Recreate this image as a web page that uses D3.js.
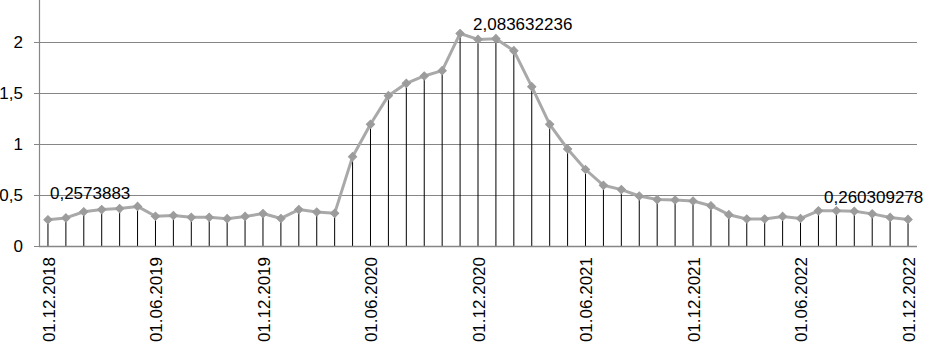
<!DOCTYPE html>
<html>
<head>
<meta charset="utf-8">
<script src="https://cdn.jsdelivr.net/npm/d3@7"></script>
<style>
	body { margin: 0; background: #fff; }
	svg { display: block; font-family: "Liberation Sans", Arial, sans-serif; }
</style>
</head>
<body>
<div id="chart"></div>
<script>

// months on the category axis
var months = [
	'01.12.2018', '01.01.2019', '01.02.2019', '01.03.2019', '01.04.2019', '01.05.2019',
	'01.06.2019', '01.07.2019', '01.08.2019', '01.09.2019', '01.10.2019', '01.11.2019',
	'01.12.2019', '01.01.2020', '01.02.2020', '01.03.2020', '01.04.2020', '01.05.2020',
	'01.06.2020', '01.07.2020', '01.08.2020', '01.09.2020', '01.10.2020', '01.11.2020',
	'01.12.2020', '01.01.2021', '01.02.2021', '01.03.2021', '01.04.2021', '01.05.2021',
	'01.06.2021', '01.07.2021', '01.08.2021', '01.09.2021', '01.10.2021', '01.11.2021',
	'01.12.2021', '01.01.2022', '01.02.2022', '01.03.2022', '01.04.2022', '01.05.2022',
	'01.06.2022', '01.07.2022', '01.08.2022', '01.09.2022', '01.10.2022', '01.11.2022',
	'01.12.2022'
];

var values = [
	0.2573883, 0.275, 0.336, 0.357, 0.367, 0.388,
	0.292, 0.299, 0.281, 0.281, 0.268, 0.29,
	0.318, 0.27, 0.357, 0.333, 0.32, 0.876,
	1.193, 1.474, 1.595, 1.667, 1.719, 2.083632236,
	2.025, 2.033, 1.915, 1.562, 1.193, 0.951,
	0.75, 0.595, 0.553, 0.49, 0.455, 0.451,
	0.441, 0.395, 0.307, 0.265, 0.265, 0.29,
	0.27, 0.345, 0.346, 0.341, 0.315, 0.28,
	0.260309278
];

var xTickLabels = ['01.12.2018', '01.06.2019', '01.12.2019', '01.06.2020', '01.12.2020',
	'01.06.2021', '01.12.2021', '01.06.2022', '01.12.2022'];

var yTicks = [0, 0.5, 1, 1.5, 2];

// points that carry a value label (index into values)
var labelledPoints = [0, 23, 48];


var width = 925, height = 345;

var svg = d3.select('#chart').append('svg')
	.attr('width', width)
	.attr('height', height);

var x = d3.scalePoint()
	.domain(months)
	.range([39, 917])
	.padding(0.5);

var y = d3.scaleLinear()
	.domain([0, 2.5])
	.range([246, -9]);

function commaFormat(d) {
	return String(d).replace('.', ',');
}

// gridlines + y labels
var yAxis = svg.append('g')
	.attr('transform', 'translate(39,0)')
	.call(d3.axisLeft(y).tickValues(yTicks).tickSize(-878).tickFormat(commaFormat));

yAxis.select('.domain').remove();
yAxis.selectAll('.tick line')
	.attr('x1', -5)
	.attr('stroke', '#868686')
	.attr('stroke-width', 1.2);
yAxis.selectAll('.tick text')
	.attr('x', -16)
	.attr('fill', '#000')
	.style('font-size', '17px');

// vertical axis line
svg.append('line')
	.attr('x1', 39.5).attr('x2', 39.5)
	.attr('y1', 0).attr('y2', y(0))
	.attr('stroke', '#868686')
	.attr('stroke-width', 1.2);

// x labels, rotated
var xAxis = svg.append('g')
	.attr('transform', 'translate(0,' + y(0) + ')')
	.call(d3.axisBottom(x).tickValues(xTickLabels).tickSize(0));

xAxis.select('.domain').remove();
xAxis.selectAll('.tick text')
	.attr('transform', 'rotate(-90)')
	.attr('text-anchor', 'end')
	.attr('x', -11)
	.attr('y', 0)
	.attr('dy', '0.36em')
	.attr('fill', '#000')
	.style('font-size', '17px');

var data = months.map(function(m, i) {
	return {month: m, value: values[i], index: i};
});

// drop lines from each point to the axis
svg.append('g').selectAll('line')
	.data(data)
	.enter().append('line')
	.attr('x1', function(d) { return x(d.month); })
	.attr('x2', function(d) { return x(d.month); })
	.attr('y1', function(d) { return y(d.value); })
	.attr('y2', y(0))
	.attr('stroke', '#000')
	.attr('stroke-width', 1);

// the series line
var line = d3.line()
	.x(function(d) { return x(d.month); })
	.y(function(d) { return y(d.value); });

svg.append('path')
	.datum(data)
	.attr('d', line)
	.attr('fill', 'none')
	.attr('stroke', '#a9a9a9')
	.attr('stroke-width', 3)
	.attr('stroke-linejoin', 'round');

// diamond markers
var diamond = d3.symbol().type(d3.symbolSquare).size(34);

svg.append('g').selectAll('path')
	.data(data)
	.enter().append('path')
	.attr('d', diamond)
	.attr('transform', function(d) {
		return 'translate(' + x(d.month) + ',' + y(d.value) + ') rotate(45)';
	})
	.attr('fill', '#9c9c9c')
	.attr('stroke', '#9c9c9c')
	.attr('stroke-width', 1);

// horizontal axis line on top of drop lines
svg.append('line')
	.attr('x1', 39).attr('x2', 917)
	.attr('y1', y(0) + 0.5).attr('y2', y(0) + 0.5)
	.attr('stroke', '#868686')
	.attr('stroke-width', 1.4);

// value labels, offsets relative to the point
var labelOffsets = {0: [2, -21], 23: [13, -3.5], 48: [-84, -16.5]};

svg.append('g').selectAll('text')
	.data(labelledPoints)
	.enter().append('text')
	.attr('x', function(i) { return x(months[i]) + labelOffsets[i][0]; })
	.attr('y', function(i) { return y(values[i]) + labelOffsets[i][1]; })
	.attr('fill', '#000')
	.style('font-size', '17px')
	.text(function(i) { return commaFormat(values[i]); });

</script>
</body>
</html>
